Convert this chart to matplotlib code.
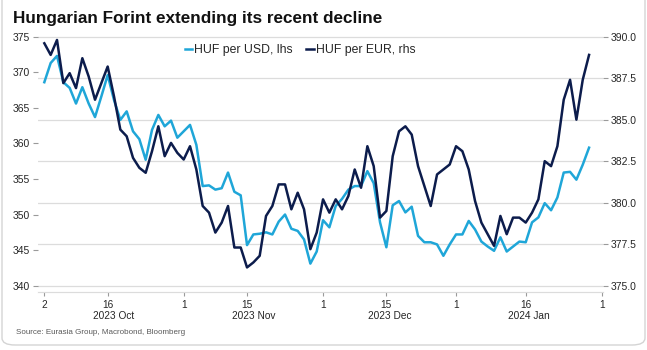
import numpy as np
import pandas as pd
import matplotlib
matplotlib.use("Agg")
import matplotlib.pyplot as plt
from matplotlib.patches import FancyBboxPatch

plt.rcParams['font.family'] = ['Liberation Sans', 'DejaVu Sans']

# business days, first and last observation
dates = pd.bdate_range("2023-10-02", "2024-01-30")

# HUF per USD (left axis)
huf_usd = [368.6, 371.3, 372.3, 368.6, 367.8, 365.6, 367.9, 365.6, 363.7, 366.6,
           369.6, 366.1, 363.3, 364.5, 361.7, 360.6, 357.7, 361.9, 364.0, 362.4,
           363.2, 360.8, 361.7, 362.6, 359.8, 354.0, 354.1, 353.5, 353.7, 355.9,
           353.2, 352.7, 345.7, 347.2, 347.3, 347.5, 347.2, 349.0, 350.0, 348.0,
           347.7, 346.5, 343.1, 344.8, 349.2, 348.2, 351.2, 352.2, 353.5, 354.0,
           354.0, 356.1, 354.4, 348.9, 345.4, 351.3, 351.9, 350.3, 351.1, 347.0,
           346.1, 346.1, 345.8, 344.2, 345.8, 347.2, 347.2, 349.1, 347.9, 346.2,
           345.5, 344.9, 346.8, 344.8, 345.5, 346.2, 346.1, 348.9, 349.6, 351.6,
           350.6, 352.4, 355.9, 356.0, 354.9, 357.0, 359.4]

# HUF per EUR (right axis)
huf_eur = [389.6, 388.9, 389.8, 387.2, 387.8, 386.9, 388.7, 387.6, 386.2, 387.2,
           388.2, 386.4, 384.4, 384.0, 382.7, 382.1, 381.8, 383.1, 384.6, 382.8,
           383.6, 383.0, 382.6, 383.4, 382.0, 379.8, 379.4, 378.2, 378.8, 379.8,
           377.3, 377.3, 376.1, 376.4, 376.8, 379.2, 379.8, 381.1, 381.1, 379.6,
           380.6, 379.6, 377.2, 378.2, 380.2, 379.4, 380.2, 379.6, 380.4, 382.0,
           380.9, 383.4, 382.2, 379.1, 379.5, 382.8, 384.3, 384.6, 384.1, 382.2,
           381.0, 379.8, 381.7, 382.0, 382.3, 383.4, 383.1, 382.0, 380.1, 378.8,
           378.1, 377.4, 379.2, 378.1, 379.1, 379.1, 378.8, 379.4, 380.2, 382.5,
           382.2, 383.4, 386.2, 387.4, 385.0, 387.4, 388.9]

day_ticks = ["2023-10-02", "2023-10-16", "2023-11-01", "2023-11-15", "2023-12-01",
             "2023-12-15", "2024-01-01", "2024-01-16", "2024-02-01"]
month_starts = ["2023-10-01", "2023-11-01", "2023-12-01", "2024-01-01", "2024-02-01"]
month_labels = ["2023 Oct", "2023 Nov", "2023 Dec", "2024 Jan"]

left_ticks = [340, 345, 350, 355, 360, 365, 370, 375]
right_ticks = [375.0, 377.5, 380.0, 382.5, 385.0, 387.5, 390.0]

usd_col = '#1fa6d8'
eur_col = '#0c1c4c'
grid_col = '#dcdcdc'
txt_col = '#262626'

# x as business-day position, so weekends don't leave gaps
axis_days = pd.bdate_range("2023-10-02", "2024-02-01")
def pos(d):
    return axis_days.searchsorted(pd.Timestamp(d))

x = np.array([pos(d) for d in dates])

W, H = 647, 350
fig = plt.figure(figsize=(W / 100, H / 100), dpi=100)
ax = fig.add_axes([38 / W, (H - 292) / H, 565 / W, 262 / H])
ax2 = ax.twinx()

ax.set_ylim(339.11, 375.94)
ax2.set_ylim(374.62, 390.40)
ax.set_xlim(-1.0, 88.2)

# gridlines follow the right-hand scale, drawn in left units so they stay under the lines
lo, hi = ax.get_ylim()
rlo, rhi = ax2.get_ylim()
for r in right_ticks:
    ax.axhline(lo + (r - rlo) * (hi - lo) / (rhi - rlo), color=grid_col, lw=0.9, zorder=0)

l1, = ax.plot(x, huf_usd, color=usd_col, lw=1.8, label='HUF per USD, lhs', zorder=3)
l2, = ax2.plot(x, huf_eur, color=eur_col, lw=1.8, label='HUF per EUR, rhs', zorder=3)

ax.set_yticks(left_ticks)
ax.set_yticklabels([str(v) for v in left_ticks])
ax2.set_yticks(right_ticks)
ax2.set_yticklabels(['%.1f' % v for v in right_ticks])

ax.set_xticks([pos(d) for d in day_ticks])
ax.set_xticklabels([str(pd.Timestamp(d).day) for d in day_ticks])

for a in (ax, ax2):
    for s in ['top', 'left', 'right']:
        a.spines[s].set_visible(False)
    a.spines['bottom'].set_color(grid_col)
ax.tick_params(axis='y', length=3.5, width=0.8, color='#9a9a9a', labelsize=7.5,
               labelcolor=txt_col, pad=2)
ax2.tick_params(axis='y', length=3.5, width=0.8, color='#9a9a9a', labelsize=7.5,
                labelcolor=txt_col, pad=2)
ax.tick_params(axis='x', length=3, width=0.8, color='#9a9a9a', labelsize=7.3,
               labelcolor=txt_col, pad=3)

# month names under the day numbers
for i, lab in enumerate(month_labels):
    mid = (pos(month_starts[i]) + pos(month_starts[i + 1])) / 2
    ax.annotate(lab, xy=(mid, 0), xycoords=('data', 'axes fraction'),
                xytext=(0, -17.5), textcoords='offset points', ha='center', va='center',
                fontsize=7.3, color=txt_col)

leg = ax.legend(handles=[l1, l2], loc='center', bbox_to_anchor=(0.464, 0.924), ncol=2,
                frameon=False, fontsize=8.8, handlelength=0.6, handletextpad=0.2,
                columnspacing=1.1)
for t in leg.get_texts():
    t.set_color(txt_col)

fig.text(13 / W, 1 - 18 / H, 'Hungarian Forint extending its recent decline',
         fontsize=12.3, weight='bold', color='#111111', va='center', ha='left')
fig.text(16 / W, 1 - 332 / H, 'Source: Eurasia Group, Macrobond, Bloomberg',
         fontsize=5.8, color='#595959', va='center', ha='left')

# light rounded frame of the card
card = FancyBboxPatch((2 / W, 5 / H), 643 / W, 360 / H, boxstyle='round,pad=0,rounding_size=0.02',
                      transform=fig.transFigure, facecolor='none', edgecolor='#d4d4d4', lw=1.0)
fig.patches.append(card)

fig.savefig('out.png', dpi=100)
